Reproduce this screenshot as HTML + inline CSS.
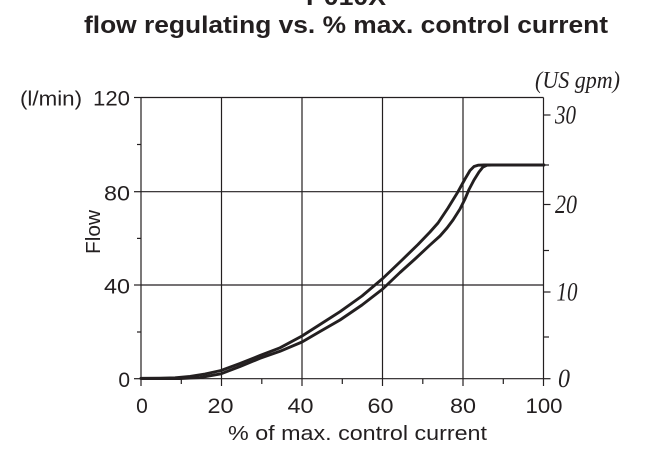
<!DOCTYPE html>
<html>
<head>
<meta charset="utf-8">
<style>
  html, body { margin:0; padding:0; background:#ffffff; }
  svg { display:block; }
  .t { font-family: "Liberation Sans", "DejaVu Sans", sans-serif; fill:#231f20; }
  .s { font-family: "Liberation Serif", serif; font-style: italic; fill:#231f20; }
</style>
</head>
<body>
<svg width="660" height="460" viewBox="0 0 660 460" xmlns="http://www.w3.org/2000/svg">
  <rect x="0" y="0" width="660" height="460" fill="#ffffff"/>

  <!-- Titles -->
  <text class="t" x="346" y="5" font-size="24" font-weight="bold" text-anchor="middle" textLength="80" lengthAdjust="spacingAndGlyphs">P010X</text>
  <text class="t" x="84" y="33" font-size="24" font-weight="bold" textLength="524" lengthAdjust="spacingAndGlyphs">flow regulating vs. % max. control current</text>

  <!-- Grid and frame -->
  <g stroke="#231f20" stroke-width="1.2" fill="none">
    <line x1="141" y1="97.5" x2="543.5" y2="97.5"/>
    <line x1="141" y1="191.7" x2="543.5" y2="191.7"/>
    <line x1="141" y1="285" x2="543.5" y2="285"/>
    <line x1="141" y1="378.7" x2="543.5" y2="378.7"/>
    <line x1="141" y1="97.5" x2="141" y2="378.7"/>
    <line x1="221.5" y1="97.5" x2="221.5" y2="378.7"/>
    <line x1="302" y1="97.5" x2="302" y2="378.7"/>
    <line x1="382.5" y1="97.5" x2="382.5" y2="378.7"/>
    <line x1="463" y1="97.5" x2="463" y2="378.7"/>
    <line x1="543.5" y1="97.5" x2="543.5" y2="378.7"/>
    <!-- left major ticks -->
    <line x1="134" y1="97.5" x2="141" y2="97.5"/>
    <line x1="134" y1="191.7" x2="141" y2="191.7"/>
    <line x1="134" y1="285" x2="141" y2="285"/>
    <line x1="134" y1="378.7" x2="141" y2="378.7"/>
    <!-- left minor ticks -->
    <line x1="137" y1="144.5" x2="141" y2="144.5"/>
    <line x1="137" y1="238.4" x2="141" y2="238.4"/>
    <line x1="137" y1="332" x2="141" y2="332"/>
    <!-- bottom major ticks -->
    <line x1="141" y1="378.7" x2="141" y2="386"/>
    <line x1="221.5" y1="378.7" x2="221.5" y2="386"/>
    <line x1="302" y1="378.7" x2="302" y2="386"/>
    <line x1="382.5" y1="378.7" x2="382.5" y2="386"/>
    <line x1="463" y1="378.7" x2="463" y2="386"/>
    <line x1="543.5" y1="378.7" x2="543.5" y2="386"/>
    <!-- bottom minor ticks -->
    <line x1="181.3" y1="378.7" x2="181.3" y2="384"/>
    <line x1="261.8" y1="378.7" x2="261.8" y2="384"/>
    <line x1="342.3" y1="378.7" x2="342.3" y2="384"/>
    <line x1="422.8" y1="378.7" x2="422.8" y2="384"/>
    <line x1="503.3" y1="378.7" x2="503.3" y2="384"/>
    <!-- right ticks -->
    <line x1="543.5" y1="115" x2="550.5" y2="115"/>
    <line x1="543.5" y1="165" x2="549" y2="165"/>
    <line x1="543.5" y1="204.5" x2="550.5" y2="204.5"/>
    <line x1="543.5" y1="250.5" x2="549" y2="250.5"/>
    <line x1="543.5" y1="292" x2="550.5" y2="292"/>
    <line x1="543.5" y1="337" x2="549" y2="337"/>
    <line x1="543.5" y1="378.7" x2="550.5" y2="378.7"/>
  </g>

  <!-- Curves -->
  <g stroke="#231f20" stroke-width="2.9" fill="none" stroke-linejoin="round" stroke-linecap="round">
    <polyline points="141,378.3 160,378.2 175,377.8 190,376.4 205,374 221,370.5 240,363.5 260,355.5 280,347.8 302,336 320,324.5 340,311.7 362,296 382.7,278.5 400,262 418,244.5 430,232 438,223 448,208 458,191.7 465,179 470,170.5 474,166.5 478,165.2 484,165 544,165"/>
    <polyline points="141,378.5 180,378.5 200,377.6 221,373.8 240,366.5 260,358.3 280,351.3 302,342 320,331.5 340,320 362,305 382.7,289 400,272.5 415,259 430,245 440,236 447,228 453,220 460,209 465,199 469,189.5 474,180 479,172 483,167 487,165.2 492,165"/>
  </g>

  <!-- Left axis labels -->
  <text class="t" x="82" y="105.5" font-size="20" text-anchor="end" textLength="62" lengthAdjust="spacingAndGlyphs">(l/min)</text>
  <text class="t" x="130" y="105.5" font-size="21" text-anchor="end" textLength="37" lengthAdjust="spacingAndGlyphs">120</text>
  <text class="t" x="130" y="200.5" font-size="21" text-anchor="end" textLength="26" lengthAdjust="spacingAndGlyphs">80</text>
  <text class="t" x="130" y="293.5" font-size="21" text-anchor="end" textLength="26" lengthAdjust="spacingAndGlyphs">40</text>
  <text class="t" x="130" y="387" font-size="21" text-anchor="end">0</text>
  <text class="t" font-size="20" text-anchor="middle" transform="translate(100,232) rotate(-90)" textLength="44" lengthAdjust="spacingAndGlyphs">Flow</text>

  <!-- Bottom axis labels -->
  <text class="t" x="142" y="413" font-size="21" text-anchor="middle">0</text>
  <text class="t" x="220.5" y="413" font-size="21" text-anchor="middle" textLength="26" lengthAdjust="spacingAndGlyphs">20</text>
  <text class="t" x="300.5" y="413" font-size="21" text-anchor="middle" textLength="26" lengthAdjust="spacingAndGlyphs">40</text>
  <text class="t" x="380.5" y="413" font-size="21" text-anchor="middle" textLength="26" lengthAdjust="spacingAndGlyphs">60</text>
  <text class="t" x="463" y="413" font-size="21" text-anchor="middle" textLength="26" lengthAdjust="spacingAndGlyphs">80</text>
  <text class="t" x="544" y="413" font-size="21" text-anchor="middle" textLength="37" lengthAdjust="spacingAndGlyphs">100</text>
  <text class="t" x="228" y="440" font-size="20" textLength="259" lengthAdjust="spacingAndGlyphs">% of max. control current</text>

  <!-- Right axis labels -->
  <text class="s" x="535" y="88" font-size="24" textLength="85" lengthAdjust="spacingAndGlyphs">(US gpm)</text>
  <text class="s" x="555" y="123.5" font-size="26" textLength="21" lengthAdjust="spacingAndGlyphs">30</text>
  <text class="s" x="555" y="213" font-size="26" textLength="22" lengthAdjust="spacingAndGlyphs">20</text>
  <text class="s" x="556.5" y="300.5" font-size="26" textLength="21" lengthAdjust="spacingAndGlyphs">10</text>
  <text class="s" x="558" y="387" font-size="26" textLength="12" lengthAdjust="spacingAndGlyphs">0</text>
</svg>
</body>
</html>
